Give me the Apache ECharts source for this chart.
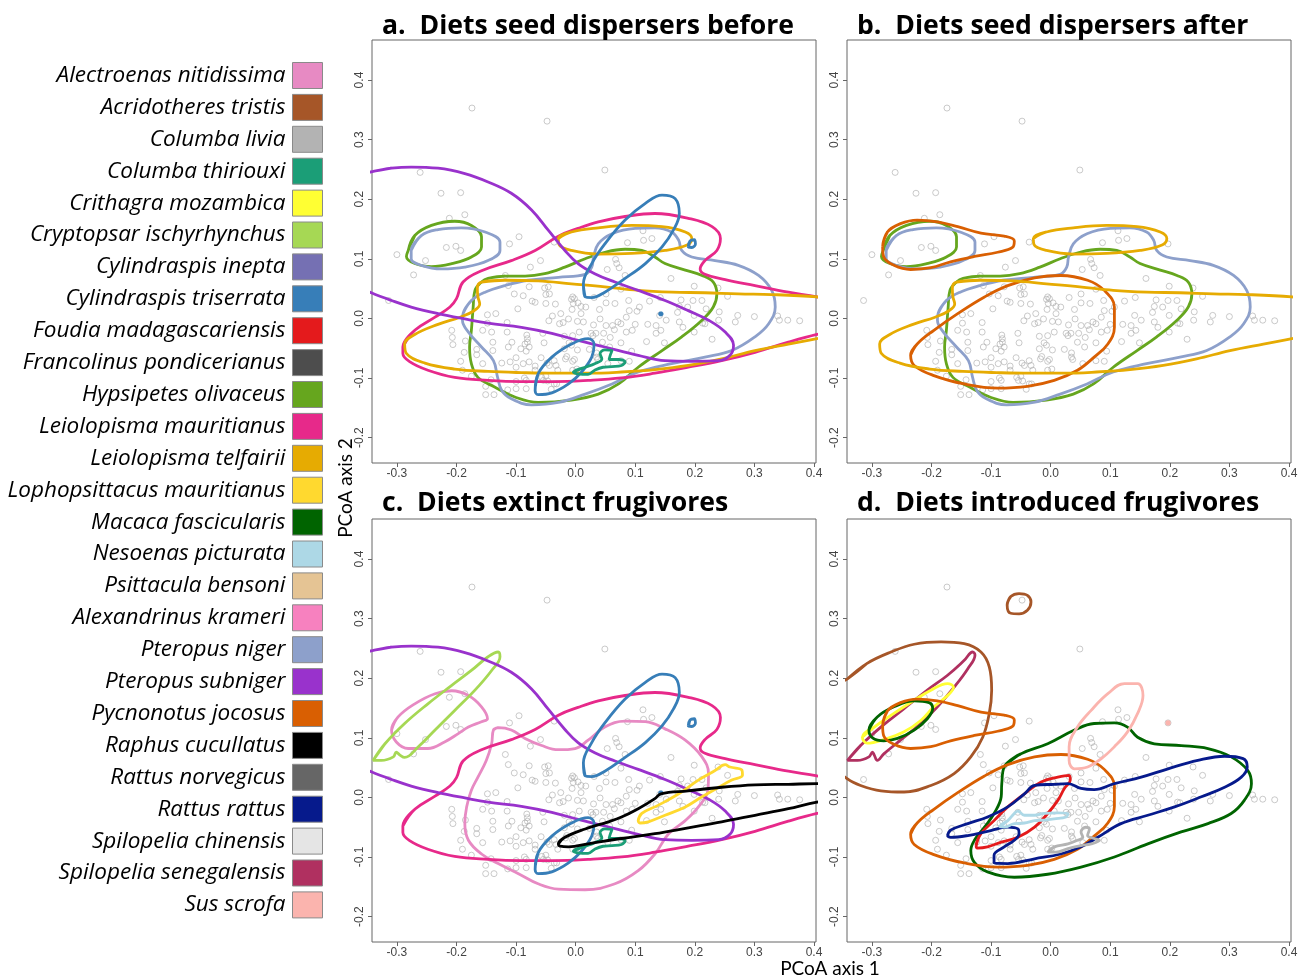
<!DOCTYPE html>
<html><head><meta charset="utf-8">
<script src="https://cdn.jsdelivr.net/npm/echarts@6/dist/echarts.min.js"></script>
<style>html,body{margin:0;padding:0;background:#fff}#c{width:1306px;height:978px}</style>
</head><body><div id="c"></div>
<script>
const species = ['Alectroenas nitidissima','Acridotheres tristis','Columba livia','Columba thiriouxi','Crithagra mozambica','Cryptopsar ischyrhynchus','Cylindraspis inepta','Cylindraspis triserrata','Foudia madagascariensis','Francolinus pondicerianus','Hypsipetes olivaceus','Leiolopisma mauritianus','Leiolopisma telfairii','Lophopsittacus mauritianus','Macaca fascicularis','Nesoenas picturata','Psittacula bensoni','Alexandrinus krameri','Pteropus niger','Pteropus subniger','Pycnonotus jocosus','Raphus cucullatus','Rattus norvegicus','Rattus rattus','Spilopelia chinensis','Spilopelia senegalensis','Sus scrofa'];
const speciesColors = ['#e78ac3','#a65628','#b3b3b3','#1b9e77','#ffff33','#a6d854','#7570b3','#377eb8','#e41a1c','#4d4d4d','#66a61e','#e7298a','#e6ab02','#ffd92f','#006400','#add8e6','#e5c494','#f781bf','#8da0cb','#9932cc','#d95f02','#000000','#666666','#061a8c','#e5e5e5','#b03060','#fbb4ae'];
const panelTitles = ['a.  Diets seed dispersers before','b.  Diets seed dispersers after','c.  Diets extinct frugivores','d.  Diets introduced frugivores'];
const xTicks = [-0.3,-0.2,-0.1,0,0.1,0.2,0.3,0.4];
const yTicks = [-0.2,-0.1,0,0.1,0.2,0.3,0.4];
const xLabel = 'PCoA axis 1';
const yLabel = 'PCoA axis 2';

// background ordination points (PCoA axis 1, PCoA axis 2)
const points = [[-0.174,0.353],[-0.048,0.331],[-0.261,0.245],[0.049,0.249],[-0.226,0.210],[-0.193,0.211],[-0.212,0.168],[-0.186,0.174],[-0.217,0.119],[-0.201,0.121],[-0.193,0.114],[-0.111,0.125],[-0.095,0.137],[-0.036,0.128],[0.087,0.127],[0.114,0.131],[0.128,0.134],[0.113,0.147],[0.197,0.125],[-0.300,0.107],[-0.252,0.097],[-0.059,0.097],[-0.076,0.086],[0.067,0.099],[0.069,0.092],[0.073,0.085],[0.053,0.082],[-0.118,0.072],[-0.272,0.073],[0.083,0.072],[0.160,0.067],[-0.113,0.055],[-0.052,0.051],[-0.046,0.053],[0.199,0.054],[0.239,0.051],[0.076,0.049],[-0.314,0.030],[-0.103,0.041],[-0.088,0.038],[-0.050,0.040],[-0.044,0.041],[-0.007,0.032],[-0.002,0.033],[0.031,0.035],[-0.073,0.029],[-0.068,0.027],[-0.004,0.025],[0.004,0.026],[-0.034,0.024],[0.009,0.020],[0.051,0.026],[0.066,0.025],[0.089,0.030],[0.124,0.029],[0.142,0.035],[0.177,0.031],[0.197,0.030],[0.212,0.030],[0.255,0.037],[-0.097,0.016],[0.174,0.020],[0.188,0.019],[-0.006,0.015],[0.040,0.015],[-0.134,0.008],[-0.148,0.006],[-0.039,0.004],[-0.025,0.008],[0.041,-0.001],[0.009,0.008],[0.090,0.013],[0.103,0.012],[0.141,0.005],[0.152,-0.003],[0.171,0.010],[0.199,0.005],[0.219,0.016],[0.241,0.011],[0.272,0.005],[0.300,0.003],[0.339,0.004],[0.342,-0.003],[0.356,-0.003],[0.376,-0.004],[0.240,-0.003],[0.268,-0.006],[0.213,-0.008],[-0.045,-0.004],[-0.021,-0.007],[0.003,-0.005],[0.030,-0.011],[0.062,-0.012],[0.071,-0.006],[0.076,-0.009],[0.100,-0.010],[0.095,-0.020],[0.085,-0.023],[0.121,-0.010],[0.135,-0.012],[0.143,-0.020],[0.180,-0.015],[-0.115,-0.007],[-0.148,-0.008],[-0.156,-0.020],[-0.208,-0.020],[-0.141,-0.023],[-0.115,-0.023],[-0.082,-0.028],[-0.055,-0.025],[-0.081,-0.034],[-0.085,-0.043],[-0.078,-0.048],[-0.019,-0.030],[-0.005,-0.029],[0.006,-0.023],[0.026,-0.025],[0.034,-0.025],[0.047,-0.025],[0.045,-0.040],[0.058,-0.032],[0.065,-0.019],[0.076,-0.041],[0.119,-0.039],[0.149,-0.041],[0.229,-0.035],[-0.207,-0.032],[-0.206,-0.044],[-0.185,-0.038],[-0.139,-0.040],[-0.107,-0.040],[-0.113,-0.048],[-0.092,-0.051],[-0.083,-0.055],[-0.053,-0.041],[-0.011,-0.041],[-0.007,-0.045],[-0.019,-0.051],[0.003,-0.053],[0.023,-0.052],[0.035,-0.058],[0.057,-0.048],[0.094,-0.055],[-0.166,-0.052],[-0.187,-0.057],[-0.166,-0.061],[-0.100,-0.066],[-0.110,-0.073],[-0.124,-0.075],[-0.088,-0.076],[-0.068,-0.080],[-0.058,-0.066],[-0.048,-0.075],[-0.036,-0.071],[-0.033,-0.079],[-0.017,-0.068],[-0.015,-0.064],[-0.002,-0.069],[-0.005,-0.072],[0.035,-0.065],[0.037,-0.069],[0.054,-0.076],[0.076,-0.071],[0.090,-0.072],[-0.193,-0.072],[-0.156,-0.076],[-0.190,-0.087],[-0.068,-0.087],[-0.044,-0.079],[0.002,-0.085],[-0.175,-0.097],[-0.142,-0.103],[-0.100,-0.106],[-0.086,-0.100],[-0.083,-0.104],[-0.057,-0.099],[-0.047,-0.105],[-0.050,-0.097],[-0.036,-0.110],[-0.114,-0.120],[-0.100,-0.118],[-0.083,-0.118],[-0.151,-0.114],[-0.151,-0.128],[-0.137,-0.128],[-0.041,-0.119],[-0.032,-0.110],[-0.005,0.036],[0.017,0.019],[-0.027,-0.009],[0.029,-0.029],[-0.012,-0.001],[0.013,-0.006],[0.051,-0.012],[0.135,-0.025],[0.174,-0.006],[0.199,-0.023],[0.217,-0.009],[-0.081,-0.040],[-0.100,-0.082],[-0.078,-0.073],[-0.030,-0.087],[-0.005,-0.087],[-0.054,-0.104],[-0.139,-0.054],[-0.050,0.025],[-0.078,0.053],[0.051,0.041],[0.107,0.019],[0.085,0.002]];

// density contours (PCoA axis 1, PCoA axis 2)
const subnigerLoop = [[-0.343,0.246],[-0.309,0.252],[-0.276,0.254],[-0.231,0.252],[-0.186,0.243],[-0.147,0.229],[-0.108,0.210],[-0.074,0.182],[-0.046,0.148],[-0.018,0.114],[0.004,0.092],[0.032,0.075],[0.066,0.061],[0.105,0.047],[0.150,0.030],[0.189,0.013],[0.223,-0.003],[0.251,-0.023],[0.265,-0.045],[0.259,-0.062],[0.240,-0.071],[0.195,-0.072],[0.150,-0.071],[0.105,-0.062],[0.049,-0.048],[0.004,-0.037],[-0.040,-0.025],[-0.091,-0.015],[-0.147,-0.008],[-0.186,-0.001],[-0.231,0.008],[-0.276,0.019],[-0.309,0.030],[-0.343,0.043],[-0.380,0.060],[-0.420,0.120],[-0.400,0.200],[-0.370,0.240]];
const hypsipetesSmall = [[-0.281,0.114],[-0.270,0.139],[-0.242,0.156],[-0.203,0.163],[-0.175,0.156],[-0.158,0.137],[-0.158,0.120],[-0.175,0.103],[-0.208,0.092],[-0.242,0.087],[-0.270,0.092],[-0.284,0.104]];
const hypsipetesBig = [[-0.147,0.067],[-0.119,0.071],[-0.085,0.071],[-0.052,0.075],[-0.018,0.086],[0.016,0.100],[0.049,0.111],[0.083,0.116],[0.111,0.114],[0.133,0.103],[0.150,0.092],[0.184,0.081],[0.212,0.072],[0.231,0.061],[0.237,0.041],[0.231,0.019],[0.212,-0.003],[0.178,-0.031],[0.145,-0.054],[0.105,-0.082],[0.072,-0.110],[0.038,-0.127],[-0.007,-0.137],[-0.063,-0.141],[-0.102,-0.132],[-0.136,-0.115],[-0.164,-0.099],[-0.175,-0.076],[-0.178,-0.048],[-0.175,-0.020],[-0.172,0.019],[-0.169,0.047],[-0.158,0.061]];
const nigerSmall = [[-0.276,0.114],[-0.259,0.139],[-0.231,0.149],[-0.192,0.152],[-0.152,0.145],[-0.127,0.128],[-0.127,0.114],[-0.147,0.097],[-0.186,0.086],[-0.225,0.083],[-0.259,0.089],[-0.276,0.100]];
const nigerBig = [[-0.189,0.008],[-0.175,0.030],[-0.152,0.044],[-0.119,0.055],[-0.080,0.064],[-0.029,0.069],[0.016,0.074],[0.027,0.086],[0.030,0.103],[0.038,0.125],[0.061,0.142],[0.100,0.151],[0.133,0.152],[0.161,0.145],[0.173,0.131],[0.178,0.114],[0.195,0.103],[0.234,0.097],[0.273,0.089],[0.307,0.072],[0.329,0.047],[0.335,0.019],[0.324,-0.009],[0.301,-0.031],[0.262,-0.054],[0.217,-0.065],[0.161,-0.076],[0.105,-0.090],[0.061,-0.110],[0.016,-0.127],[-0.029,-0.141],[-0.074,-0.145],[-0.108,-0.135],[-0.124,-0.121],[-0.131,-0.099],[-0.138,-0.071],[-0.158,-0.048],[-0.180,-0.023],[-0.190,-0.003]];
const mauritianusLoop = [[-0.290,-0.048],[-0.270,-0.020],[-0.236,0.002],[-0.211,0.019],[-0.200,0.033],[-0.189,0.061],[-0.158,0.080],[-0.108,0.097],[-0.068,0.114],[-0.029,0.138],[0.004,0.151],[0.038,0.162],[0.083,0.171],[0.133,0.176],[0.189,0.168],[0.229,0.154],[0.243,0.134],[0.237,0.114],[0.217,0.097],[0.209,0.083],[0.217,0.074],[0.251,0.065],[0.301,0.055],[0.357,0.044],[0.405,0.036],[0.453,0.025],[0.464,0.002],[0.453,-0.017],[0.405,-0.027],[0.357,-0.040],[0.301,-0.057],[0.245,-0.071],[0.189,-0.082],[0.133,-0.092],[0.077,-0.100],[0.021,-0.104],[-0.035,-0.106],[-0.091,-0.106],[-0.147,-0.104],[-0.203,-0.099],[-0.248,-0.087],[-0.278,-0.073],[-0.290,-0.059]];
const telfairiiSmall = [[-0.029,0.134],[-0.007,0.145],[0.038,0.152],[0.094,0.156],[0.145,0.154],[0.184,0.145],[0.195,0.134],[0.187,0.123],[0.150,0.114],[0.094,0.109],[0.038,0.108],[-0.007,0.114],[-0.028,0.124]];
const telfairiiBig = [[-0.158,0.061],[-0.119,0.064],[-0.063,0.063],[-0.007,0.058],[0.049,0.053],[0.105,0.047],[0.161,0.044],[0.217,0.043],[0.273,0.041],[0.329,0.040],[0.405,0.036],[0.453,0.030],[0.464,0.002],[0.453,-0.023],[0.405,-0.034],[0.357,-0.043],[0.301,-0.054],[0.245,-0.068],[0.189,-0.079],[0.133,-0.086],[0.077,-0.090],[0.021,-0.092],[-0.035,-0.092],[-0.091,-0.091],[-0.147,-0.089],[-0.203,-0.085],[-0.253,-0.075],[-0.284,-0.059],[-0.287,-0.043],[-0.270,-0.027],[-0.231,-0.010],[-0.194,0.002],[-0.172,0.012],[-0.161,0.024],[-0.164,0.036],[-0.165,0.050]];
const triserrataUpper = [[0.016,0.036],[0.013,0.058],[0.027,0.092],[0.049,0.125],[0.083,0.165],[0.117,0.193],[0.145,0.207],[0.167,0.201],[0.174,0.176],[0.164,0.148],[0.145,0.120],[0.117,0.092],[0.083,0.067],[0.049,0.044],[0.027,0.035]];
const triserrataLower = [[-0.068,-0.121],[-0.063,-0.093],[-0.040,-0.065],[-0.007,-0.043],[0.021,-0.034],[0.031,-0.043],[0.027,-0.065],[0.010,-0.090],[-0.012,-0.110],[-0.040,-0.125],[-0.063,-0.128]];
const triserrataTiny = [[0.189,0.120],[0.192,0.130],[0.199,0.132],[0.201,0.125],[0.195,0.119]];
const triserrataDot = [[0.141,0.009],[0.145,0.009],[0.145,0.006],[0.141,0.006]];
const thiriouxiLoop = [[-0.004,-0.090],[0.016,-0.082],[0.032,-0.076],[0.044,-0.068],[0.041,-0.059],[0.049,-0.053],[0.061,-0.054],[0.058,-0.062],[0.056,-0.069],[0.072,-0.069],[0.083,-0.073],[0.077,-0.079],[0.061,-0.081],[0.046,-0.082],[0.032,-0.087],[0.021,-0.094],[0.004,-0.093]];
const jocosusSmall = [[-0.282,0.120],[-0.274,0.145],[-0.252,0.159],[-0.224,0.165],[-0.190,0.162],[-0.156,0.154],[-0.117,0.143],[-0.078,0.138],[-0.061,0.130],[-0.064,0.119],[-0.089,0.111],[-0.128,0.104],[-0.168,0.095],[-0.201,0.085],[-0.235,0.082],[-0.263,0.089],[-0.280,0.103]];
const jocosusBig = [[-0.235,-0.062],[-0.224,-0.043],[-0.196,-0.020],[-0.156,0.008],[-0.111,0.036],[-0.072,0.055],[-0.027,0.068],[0.017,0.072],[0.062,0.064],[0.090,0.047],[0.107,0.019],[0.107,-0.015],[0.096,-0.043],[0.073,-0.065],[0.045,-0.087],[0.006,-0.104],[-0.039,-0.114],[-0.089,-0.117],[-0.145,-0.110],[-0.196,-0.096],[-0.229,-0.079]];
const cryptopsarLoop = [[-0.340,0.062],[-0.320,0.090],[-0.287,0.124],[-0.248,0.157],[-0.208,0.188],[-0.175,0.213],[-0.147,0.236],[-0.130,0.244],[-0.127,0.236],[-0.141,0.213],[-0.169,0.180],[-0.203,0.146],[-0.236,0.113],[-0.264,0.085],[-0.287,0.067],[-0.295,0.071],[-0.301,0.076],[-0.306,0.068],[-0.326,0.062]];
const alectroenasSmall = [[-0.309,0.113],[-0.298,0.135],[-0.270,0.157],[-0.236,0.174],[-0.208,0.179],[-0.180,0.171],[-0.158,0.152],[-0.148,0.132],[-0.158,0.127],[-0.180,0.118],[-0.197,0.107],[-0.220,0.093],[-0.248,0.082],[-0.281,0.082],[-0.301,0.093]];
const alectroenasBig = [[-0.138,0.113],[-0.130,0.117],[-0.108,0.113],[-0.085,0.099],[-0.057,0.087],[-0.029,0.080],[-0.001,0.082],[0.021,0.096],[0.049,0.118],[0.083,0.128],[0.117,0.127],[0.150,0.115],[0.184,0.096],[0.212,0.068],[0.223,0.040],[0.222,0.012],[0.206,-0.016],[0.184,-0.039],[0.156,-0.061],[0.133,-0.095],[0.105,-0.123],[0.066,-0.145],[0.016,-0.155],[-0.029,-0.154],[-0.063,-0.145],[-0.096,-0.128],[-0.130,-0.111],[-0.158,-0.095],[-0.180,-0.072],[-0.186,-0.044],[-0.183,-0.016],[-0.175,0.012],[-0.164,0.034],[-0.150,0.062],[-0.141,0.090]];
const lophopsittacusLoop = [[0.105,-0.039],[0.111,-0.027],[0.139,-0.013],[0.173,0.006],[0.206,0.029],[0.234,0.045],[0.251,0.055],[0.259,0.051],[0.279,0.046],[0.280,0.037],[0.262,0.029],[0.240,0.017],[0.212,0.001],[0.184,-0.016],[0.150,-0.030],[0.122,-0.041],[0.108,-0.043]];
const raphusLoop = [[-0.029,-0.078],[-0.018,-0.067],[0.016,-0.053],[0.055,-0.041],[0.077,-0.033],[0.105,-0.019],[0.133,-0.002],[0.143,0.006],[0.189,0.011],[0.245,0.017],[0.301,0.021],[0.357,0.022],[0.405,0.023],[0.458,0.020],[0.469,0.009],[0.458,-0.002],[0.405,-0.008],[0.357,-0.019],[0.301,-0.030],[0.245,-0.041],[0.189,-0.051],[0.133,-0.061],[0.077,-0.069],[0.021,-0.078],[-0.012,-0.083],[-0.026,-0.082]];
const tristisBig = [[-0.341,0.199],[-0.308,0.225],[-0.268,0.244],[-0.229,0.257],[-0.184,0.261],[-0.145,0.258],[-0.117,0.244],[-0.103,0.219],[-0.099,0.180],[-0.103,0.141],[-0.114,0.101],[-0.134,0.068],[-0.162,0.040],[-0.201,0.020],[-0.246,0.009],[-0.285,0.011],[-0.319,0.020],[-0.341,0.031],[-0.375,0.062],[-0.392,0.118],[-0.375,0.180]];
const tristisSmall = [[-0.073,0.323],[-0.067,0.337],[-0.053,0.342],[-0.039,0.339],[-0.033,0.328],[-0.039,0.314],[-0.053,0.308],[-0.067,0.309]];
const senegalensisLoop = [[-0.341,0.062],[-0.319,0.087],[-0.285,0.118],[-0.246,0.149],[-0.207,0.180],[-0.173,0.205],[-0.145,0.230],[-0.131,0.244],[-0.127,0.239],[-0.139,0.216],[-0.162,0.185],[-0.190,0.152],[-0.218,0.124],[-0.252,0.096],[-0.280,0.073],[-0.291,0.062],[-0.296,0.071],[-0.299,0.076],[-0.305,0.068],[-0.324,0.062]];
const crithagraLoop = [[-0.316,0.101],[-0.296,0.118],[-0.263,0.141],[-0.229,0.163],[-0.201,0.180],[-0.173,0.191],[-0.163,0.185],[-0.173,0.171],[-0.196,0.152],[-0.218,0.129],[-0.246,0.110],[-0.280,0.097],[-0.308,0.091]];
const macacaSmall = [[-0.305,0.113],[-0.291,0.135],[-0.263,0.152],[-0.229,0.162],[-0.204,0.159],[-0.198,0.149],[-0.207,0.132],[-0.229,0.113],[-0.257,0.099],[-0.280,0.095],[-0.299,0.100]];
const macacaBig = [[-0.078,0.051],[-0.050,0.073],[-0.005,0.090],[0.040,0.113],[0.073,0.124],[0.107,0.125],[0.129,0.118],[0.146,0.101],[0.174,0.090],[0.219,0.087],[0.264,0.082],[0.303,0.068],[0.331,0.045],[0.337,0.023],[0.325,-0.005],[0.303,-0.027],[0.264,-0.044],[0.219,-0.058],[0.163,-0.078],[0.107,-0.100],[0.051,-0.117],[-0.005,-0.129],[-0.061,-0.134],[-0.106,-0.125],[-0.128,-0.109],[-0.134,-0.089],[-0.128,-0.072],[-0.111,-0.050],[-0.095,-0.027],[-0.083,0.001],[-0.082,0.023]];
const scrofaLoop = [[0.031,0.062],[0.031,0.085],[0.045,0.118],[0.068,0.146],[0.096,0.174],[0.124,0.191],[0.146,0.191],[0.155,0.171],[0.146,0.141],[0.129,0.110],[0.107,0.085],[0.085,0.065],[0.062,0.051],[0.040,0.048]];
const scrofaDot = [[0.195,0.127],[0.199,0.127],[0.199,0.123],[0.195,0.123]];
const rattusLoop = [[-0.173,-0.064],[-0.168,-0.055],[-0.139,-0.044],[-0.106,-0.033],[-0.072,-0.016],[-0.044,0.006],[-0.027,0.020],[0.006,0.022],[0.029,0.023],[0.051,0.015],[0.073,0.013],[0.107,0.023],[0.152,0.034],[0.197,0.048],[0.247,0.062],[0.292,0.069],[0.323,0.065],[0.330,0.051],[0.320,0.034],[0.292,0.017],[0.253,0.001],[0.208,-0.016],[0.163,-0.030],[0.118,-0.044],[0.079,-0.067],[0.051,-0.083],[0.017,-0.095],[-0.027,-0.103],[-0.072,-0.111],[-0.095,-0.110],[-0.095,-0.097],[-0.078,-0.083],[-0.061,-0.072],[-0.053,-0.061],[-0.055,-0.053],[-0.072,-0.050],[-0.106,-0.057],[-0.139,-0.064],[-0.168,-0.067]];
const foudiaLoop = [[-0.125,-0.081],[-0.117,-0.061],[-0.095,-0.039],[-0.072,-0.016],[-0.044,0.006],[-0.016,0.026],[0.012,0.034],[0.031,0.037],[0.033,0.029],[0.023,0.015],[0.012,-0.005],[-0.005,-0.027],[-0.027,-0.050],[-0.055,-0.067],[-0.083,-0.075],[-0.106,-0.083],[-0.123,-0.085]];
const nesoenasLoop = [[-0.086,-0.049],[-0.072,-0.039],[-0.061,-0.027],[-0.055,-0.023],[-0.044,-0.030],[-0.027,-0.030],[-0.011,-0.027],[0.012,-0.026],[0.029,-0.027],[0.026,-0.033],[0.006,-0.036],[-0.011,-0.038],[-0.027,-0.039],[-0.044,-0.043],[-0.061,-0.044],[-0.078,-0.050]];
const liviaLoop = [[-0.005,-0.092],[0.006,-0.083],[0.029,-0.078],[0.045,-0.072],[0.054,-0.067],[0.051,-0.058],[0.059,-0.050],[0.065,-0.053],[0.062,-0.064],[0.073,-0.069],[0.082,-0.072],[0.068,-0.078],[0.051,-0.081],[0.029,-0.086],[0.009,-0.092]];

const panelContours = [
  [['Hypsipetes olivaceus',hypsipetesSmall],['Hypsipetes olivaceus',hypsipetesBig],['Pteropus niger',nigerSmall],['Pteropus niger',nigerBig],['Leiolopisma mauritianus',mauritianusLoop],['Leiolopisma telfairii',telfairiiSmall],['Leiolopisma telfairii',telfairiiBig],['Pteropus subniger',subnigerLoop],['Cylindraspis triserrata',triserrataUpper],['Cylindraspis triserrata',triserrataLower],['Cylindraspis triserrata',triserrataTiny],['Cylindraspis triserrata',triserrataDot],['Columba thiriouxi',thiriouxiLoop]],
  [['Hypsipetes olivaceus',hypsipetesSmall],['Hypsipetes olivaceus',hypsipetesBig],['Pteropus niger',nigerSmall],['Pteropus niger',nigerBig],['Pycnonotus jocosus',jocosusSmall],['Pycnonotus jocosus',jocosusBig],['Leiolopisma telfairii',telfairiiSmall],['Leiolopisma telfairii',telfairiiBig]],
  [['Alectroenas nitidissima',alectroenasSmall],['Alectroenas nitidissima',alectroenasBig],['Cryptopsar ischyrhynchus',cryptopsarLoop],['Leiolopisma mauritianus',mauritianusLoop],['Pteropus subniger',subnigerLoop],['Cylindraspis triserrata',triserrataUpper],['Cylindraspis triserrata',triserrataLower],['Cylindraspis triserrata',triserrataTiny],['Cylindraspis triserrata',triserrataDot],['Lophopsittacus mauritianus',lophopsittacusLoop],['Columba thiriouxi',thiriouxiLoop],['Raphus cucullatus',raphusLoop]],
  [['Acridotheres tristis',tristisBig],['Acridotheres tristis',tristisSmall],['Spilopelia senegalensis',senegalensisLoop],['Crithagra mozambica',crithagraLoop],['Macaca fascicularis',macacaSmall],['Macaca fascicularis',macacaBig],['Pycnonotus jocosus',jocosusSmall],['Pycnonotus jocosus',jocosusBig],['Sus scrofa',scrofaLoop],['Sus scrofa',scrofaDot],['Foudia madagascariensis',foudiaLoop],['Rattus rattus',rattusLoop],['Nesoenas picturata',nesoenasLoop],['Columba livia',liviaLoop]]
];

const gridPos = [[372,40],[847,40],[372,519],[847,519]];
const titleTop = [11,11,488,488];
const TFONT = '"Open Sans", Lato, sans-serif';
const colorOf = n => speciesColors[species.indexOf(n)];
const closeLoop = l => l.concat([l[0], l[1]]);

const grids = [], xAxes = [], yAxes = [], series = [], titles = [];
const drawn = new Set();
gridPos.forEach((p, i) => {
  grids.push({left:p[0], top:p[1], width:444, height:423, show:true, borderColor:'#666', borderWidth:1, backgroundColor:'#fff', containLabel:false});
  xAxes.push({gridIndex:i, type:'value', min:-0.3418, max:0.4034, splitLine:{show:false}, axisLine:{show:false, onZero:false},
    axisTick:{show:true, customValues:xTicks, length:4, lineStyle:{color:'#666'}},
    axisLabel:{customValues:xTicks, formatter:v=>v.toFixed(1), fontFamily:'"Liberation Sans", Arial, sans-serif', fontSize:12, color:'#444', margin:5}});
  yAxes.push({gridIndex:i, type:'value', min:-0.2427, max:0.4672, splitLine:{show:false}, axisLine:{show:false, onZero:false},
    axisTick:{show:true, customValues:yTicks, length:4, lineStyle:{color:'#666'}},
    axisLabel:{customValues:yTicks, formatter:v=>v.toFixed(1), rotate:90, fontFamily:'"Liberation Sans", Arial, sans-serif', fontSize:12, color:'#444', margin:6}});
  titles.push({text:panelTitles[i], left:p[0]+10, top:titleTop[i], padding:0,
    textStyle:{fontFamily:TFONT, fontWeight:'bold', fontSize:26.6, lineHeight:30, color:'#000'}});
  series.push({type:'scatter', name:'points', xAxisIndex:i, yAxisIndex:i, data:points, symbol:'circle', symbolSize:6,
    itemStyle:{color:'rgba(0,0,0,0)', borderColor:'#ababab', borderWidth:0.8}, silent:true, z:1});
  panelContours[i].forEach(([name, loop]) => {
    drawn.add(name);
    const c = colorOf(name);
    series.push({type:'line', name:name, xAxisIndex:i, yAxisIndex:i, data:closeLoop(loop), smooth:0.4,
      symbol:'none', showSymbol:false, clip:true, silent:true, z:3,
      color:c, itemStyle:{color:c}, lineStyle:{color:c, width:2.8}});
  });
});
species.forEach(name => {
  if (!drawn.has(name)) {
    const c = colorOf(name);
    series.push({type:'line', name:name, xAxisIndex:0, yAxisIndex:0, data:[], symbol:'none', color:c, itemStyle:{color:c}, lineStyle:{color:c}});
  }
});

const chart = echarts.init(document.getElementById('c'), null, {renderer:'canvas'});
chart.setOption({
  backgroundColor:'#fff',
  animation:false,
  title:titles,
  grid:grids, xAxis:xAxes, yAxis:yAxes, series:series,
  legend:{data:species, orient:'vertical', right:983, top:62, align:'right', padding:0,
    itemWidth:30, itemHeight:26, itemGap:4.9, icon:'rect', selectedMode:false,
    itemStyle:{borderColor:'#8a8a8a', borderWidth:1},
    textStyle:{fontFamily:TFONT, fontStyle:'italic', fontSize:22.5, color:'#000', lineHeight:26, padding:[0,2,0,0]}},
  graphic:[
    {type:'text', x:346, y:488, rotation:Math.PI/2, style:{text:yLabel, font:'19px Lato, sans-serif', fill:'#000', align:'center', verticalAlign:'middle'}},
    {type:'text', x:830, y:969, style:{text:xLabel, font:'19px Lato, sans-serif', fill:'#000', align:'center', verticalAlign:'middle'}}
  ]
});
</script></body></html>
